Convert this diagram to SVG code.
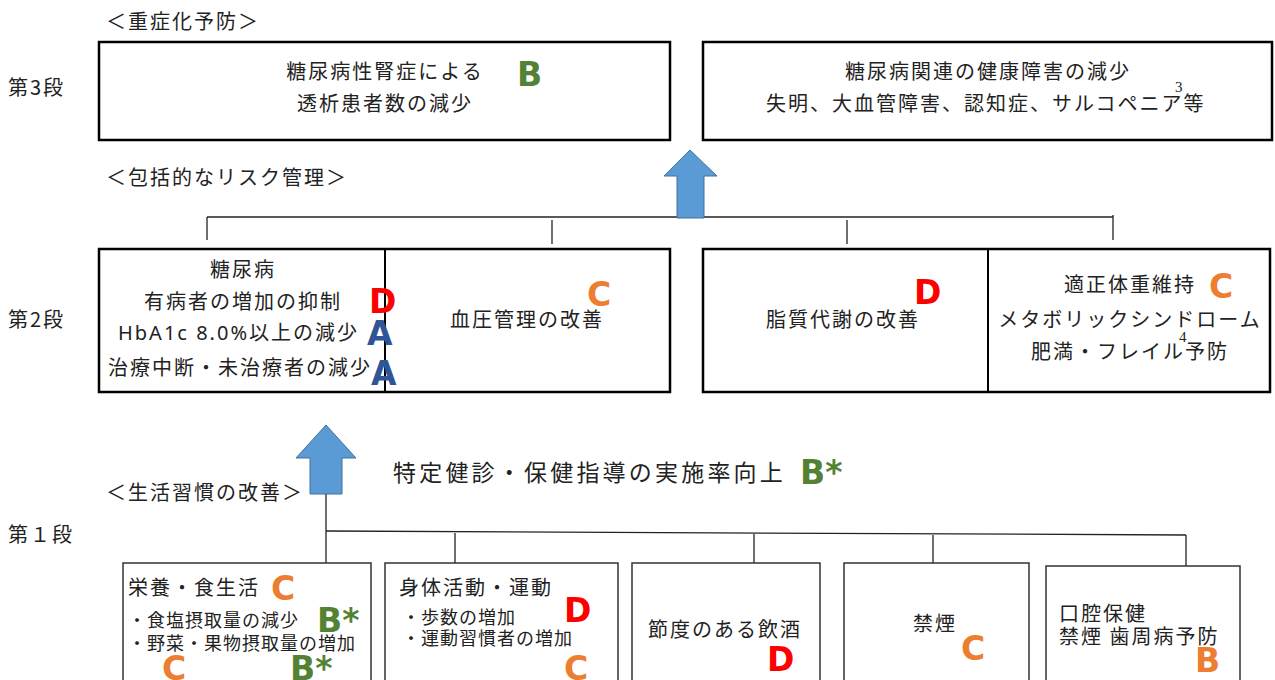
<svg xmlns="http://www.w3.org/2000/svg" width="1275" height="680" viewBox="0 0 1275 680">
<style>
.t{font-family:"Noto Sans CJK JP","Noto Sans",sans-serif;font-size:20px;letter-spacing:2px;fill:#222}
.s{font-family:"Noto Sans CJK JP","Noto Sans",sans-serif;font-size:18px;letter-spacing:1px;fill:#222}
.big{font-family:"Noto Sans CJK JP","Noto Sans",sans-serif;font-size:23px;letter-spacing:3.2px;fill:#222}
.g{font-family:"DejaVu Sans","Liberation Sans",sans-serif;font-weight:bold;font-size:33px}
.sup{font-family:"Liberation Serif",serif;font-size:15px;fill:#222}
.lat{font-family:"Noto Sans","Open Sans",sans-serif}
.A{fill:#2F5597}.B{fill:#548235}.C{fill:#ED7D31}.D{fill:#FF0000}
.box{fill:#fff;stroke:#000;stroke-width:2.5}
.box2{fill:#fff;stroke:#333;stroke-width:1.5}
.ln{stroke:#222;stroke-width:1.3;fill:none}
.arrow{fill:#5B9BD5;stroke:#41719C;stroke-width:1}
</style>
<rect width="1275" height="680" fill="#fff"/>
<g id="labels">
<text class="t" x="106" y="29" letter-spacing="1">＜重症化予防＞</text>
<text class="t" x="8" y="95">第3段</text>
<text class="t" x="106" y="185" letter-spacing="1">＜包括的なリスク管理＞</text>
<text class="t" x="8" y="327">第2段</text>
<text class="t" x="106" y="500" letter-spacing="1">＜生活習慣の改善＞</text>
<text class="t" x="8" y="542">第１段</text>
<text class="big" x="393" y="481">特定健診・保健指導の実施率向上</text>
<text class="g B" x="800" y="484">B*</text>
</g>
<g id="connectors">
<line class="ln" x1="207" y1="217" x2="1113" y2="217"/>
<line class="ln" x1="207" y1="217" x2="207" y2="240"/>
<line class="ln" x1="552" y1="220" x2="552" y2="244"/>
<line class="ln" x1="847" y1="220" x2="847" y2="244"/>
<line class="ln" x1="1113" y1="215" x2="1113" y2="240"/>
<line class="ln" x1="326" y1="494" x2="326" y2="563"/>
<line class="ln" x1="326" y1="531" x2="1186" y2="535"/>
<line class="ln" x1="455" y1="533" x2="455" y2="563"/>
<line class="ln" x1="754" y1="534" x2="754" y2="563"/>
<line class="ln" x1="933" y1="535" x2="933" y2="563"/>
<line class="ln" x1="1186" y1="535" x2="1186" y2="566"/>
<path class="arrow" d="M690,150 L717,176 L704,176 L704,218 L677,218 L677,176 L664,176 Z"/>
<path class="arrow" d="M326,425 L356,458 L342,458 L342,494 L310,494 L310,458 L296,458 Z"/>
</g>
<g id="n-nephropathy">
<rect class="box" x="99" y="42" width="571" height="98"/>
<text class="t" x="385" y="79" text-anchor="middle">糖尿病性腎症による</text>
<text class="t" x="385" y="111" text-anchor="middle">透析患者数の減少</text>
<text class="g B" x="517" y="86">B</text>
</g>
<g id="n-complications">
<rect class="box" x="703" y="42" width="569" height="98"/>
<text class="t" x="988" y="79" text-anchor="middle">糖尿病関連の健康障害の減少</text>
<text class="t" x="766" y="111">失明、大血管障害、認知症、サルコペニア等</text>
<text class="sup" x="1175" y="92">3</text>
</g>
<g id="n-risk-left">
<rect class="box" x="99" y="249" width="571" height="143"/>
<line x1="385" y1="249" x2="385" y2="392" stroke="#000" stroke-width="2"/>
<text class="t" x="243" y="277" text-anchor="middle">糖尿病</text>
<text class="t" x="243" y="309" text-anchor="middle">有病者の増加の抑制</text>
<text class="t" x="118" y="340" letter-spacing="0.5" font-size="21"><tspan class="lat">HbA1c 8.0%</tspan>以上の減少</text>
<text class="t" x="108" y="375" letter-spacing="1">治療中断・未治療者の減少</text>
<text class="g D" x="369" y="313">D</text>
<text class="g A" x="367" y="345">A</text>
<text class="g A" x="371" y="385">A</text>
<text class="t" x="527" y="327" text-anchor="middle">血圧管理の改善</text>
<text class="g C" x="587" y="306">C</text>
</g>
<g id="n-risk-right">
<rect class="box" x="703" y="249" width="567" height="143"/>
<line x1="988" y1="249" x2="988" y2="392" stroke="#000" stroke-width="2"/>
<text class="t" x="843" y="327" text-anchor="middle">脂質代謝の改善</text>
<text class="g D" x="914" y="304">D</text>
<text class="t" x="1130" y="292" text-anchor="middle">適正体重維持</text>
<text class="g C" x="1209" y="298">C</text>
<text class="t" x="1130" y="327" text-anchor="middle">メタボリックシンドローム</text>
<text class="sup" x="1179" y="342">4</text>
<text class="t" x="1130" y="359" text-anchor="middle">肥満・フレイル予防</text>
</g>
<g id="n-diet">
<rect class="box2" x="123" y="563" width="248" height="130"/>
<text class="t" x="128" y="595">栄養・食生活</text>
<text class="g C" x="271" y="600">C</text>
<text class="s" x="128" y="627">・食塩摂取量の減少</text>
<text class="g B" x="317" y="632">B*</text>
<text class="s" x="128" y="650">・野菜・果物摂取量の増加</text>
<text class="g C" x="162" y="680">C</text>
<text class="g B" x="290" y="680">B*</text>
</g>
<g id="n-exercise">
<rect class="box2" x="385" y="563" width="233" height="130"/>
<text class="t" x="399" y="595">身体活動・運動</text>
<text class="g D" x="564" y="622">D</text>
<text class="s" x="402" y="624">・歩数の増加</text>
<text class="s" x="402" y="645">・運動習慣者の増加</text>
<text class="g C" x="564" y="680">C</text>
</g>
<g id="n-alcohol">
<rect class="box2" x="632" y="563" width="188" height="130"/>
<text class="t" x="648" y="637">節度のある飲酒</text>
<text class="g D" x="767" y="671">D</text>
</g>
<g id="n-smoking">
<rect class="box2" x="844" y="563" width="185" height="130"/>
<text class="t" x="913" y="631">禁煙</text>
<text class="g C" x="961" y="660">C</text>
</g>
<g id="n-oral">
<rect class="box2" x="1046" y="566" width="194" height="130"/>
<text class="t" x="1059" y="621">口腔保健</text>
<text class="t" x="1059" y="644" letter-spacing="1">禁煙 歯周病予防</text>
<text class="g C" x="1195" y="672">B</text>
</g>
</svg>
